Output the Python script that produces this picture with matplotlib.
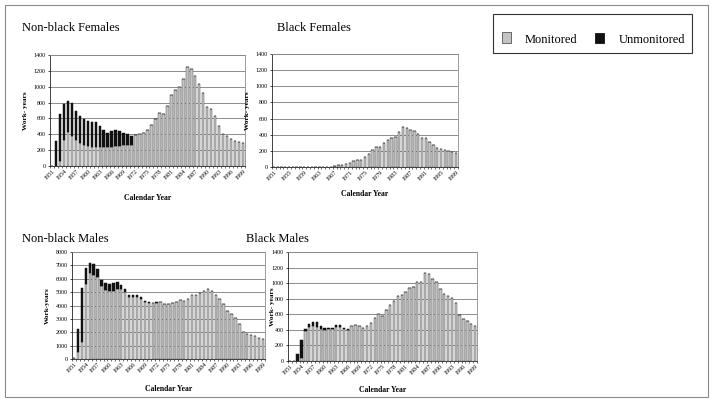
import matplotlib
matplotlib.use("Agg")
import matplotlib.pyplot as plt
from matplotlib.patches import Rectangle
import numpy as np

plt.rcParams["font.family"] = ["Liberation Serif", "DejaVu Serif"]

# ─── Data (work-years per calendar year, 1951-1999) ─────────────
years = list(range(1951, 2000))

nbf_total = [0, 310, 660, 780, 820, 800, 700, 635, 595, 565,
             560, 560, 500, 450, 420, 440, 450, 440, 420, 400,
             380, 395, 405, 410, 460, 520, 595, 665, 660, 760,
             900, 960, 1000, 1100, 1250, 1220, 1130, 1040, 920, 750,
             715, 625, 510, 405, 375, 340, 320, 300, 285]
nbf_unmon = [0, 310, 600, 450, 390, 420, 370, 345, 335, 315,
             315, 315, 260, 210, 180, 195, 200, 185, 160, 135,
             110, 5, 0, 0, 0, 0, 0, 0, 0, 0,
             0, 0, 0, 0, 0, 0, 0, 0, 0, 0,
             0, 0, 0, 0, 0, 0, 0, 0, 0]

bf_total = [0, 0, 0, 0, 0, 0, 0, 0, 0, 0,
            0, 0, 0, 0, 0, 0, 15, 25, 30, 40,
            45, 75, 90, 85, 130, 165, 205, 250, 250, 300,
            335, 355, 375, 430, 490, 480, 460, 445, 405, 365,
            355, 315, 270, 240, 225, 205, 200, 185, 175]
bf_unmon = [0] * len(years)

nbm_total = [100, 2250, 5300, 6800, 7200, 7100, 6750, 5900, 5700, 5600,
             5650, 5750, 5550, 5250, 4750, 4750, 4750, 4600, 4350, 4250,
             4200, 4250, 4250, 4100, 4100, 4150, 4250, 4400, 4350, 4500,
             4800, 4750, 4950, 5050, 5200, 5100, 4750, 4450, 4100, 3600,
             3350, 3100, 2650, 2050, 1850, 1800, 1700, 1600, 1500]
nbm_unmon = [20, 1750, 4000, 1200, 800, 800, 650, 450, 550, 500,
             550, 550, 350, 250, 150, 150, 150, 120, 100, 80,
             50, 30, 0, 0, 0, 0, 0, 0, 0, 0,
             0, 0, 0, 0, 0, 0, 0, 0, 0, 0,
             0, 0, 0, 0, 0, 0, 0, 0, 0]

bm_total = [0, 0, 85, 270, 410, 480, 505, 500, 450, 420,
            430, 430, 460, 460, 420, 410, 450, 465, 445, 430,
            455, 490, 550, 605, 580, 660, 720, 775, 840, 845,
            880, 940, 950, 1020, 1010, 1135, 1115, 1050, 1010, 925,
            860, 840, 805, 740, 590, 545, 510, 475, 450]
bm_unmon = [0, 0, 85, 230, 30, 40, 60, 60, 35, 20,
            15, 15, 20, 20, 10, 10, 5, 0, 0, 0,
            0, 0, 0, 0, 0, 0, 0, 0, 0, 0,
            0, 0, 0, 0, 0, 0, 0, 0, 0, 0,
            0, 0, 0, 0, 0, 0, 0, 0, 0]

W, H = 714, 404
GRAY = "#c4c4c4"
BLACK = "#111111"


def px_axes(fig, left, right, top, bottom):
    """Axes dari koordinat piksel (y dari atas)."""
    return fig.add_axes([left / W, (H - bottom) / H,
                         (right - left) / W, (bottom - top) / H])


def draw_panel(ax, total, unmon, ymax, ystep, tick_every, ylabel,
               ylab_x, xlab_y):
    x = np.arange(len(years))
    total = np.array(total, dtype=float)
    unmon = np.array(unmon, dtype=float)
    mon = total - unmon
    ax.bar(x, mon, width=0.62, color=GRAY, edgecolor="#555555",
           linewidth=0.35, zorder=3)
    ax.bar(x, unmon, bottom=mon, width=0.62, color=BLACK,
           edgecolor=BLACK, linewidth=0.35, zorder=3)
    ax.set_xlim(-0.5, len(years) - 0.5)
    ax.set_ylim(0, ymax)
    ax.set_yticks(np.arange(0, ymax + 1, ystep))
    ax.tick_params(axis="y", labelsize=4.3, length=1.5, width=0.5, pad=1.5)
    idx = list(range(0, len(years), tick_every))
    ax.set_xticks(idx)
    ax.set_xticklabels([str(years[i]) for i in idx], rotation=45,
                       ha="right", rotation_mode="anchor")
    ax.set_xticks(np.arange(len(years) + 1) - 0.5, minor=True)
    ax.tick_params(axis="x", which="major", labelsize=4.3, length=0,
                   pad=2)
    ax.tick_params(axis="x", which="minor", length=1.5, width=0.4)
    ax.yaxis.grid(True, color="#7a7a7a", linewidth=0.6, zorder=0)
    ax.set_axisbelow(True)
    for side in ("top", "right"):
        ax.spines[side].set_color("#8a8a8a")
        ax.spines[side].set_linewidth(0.6)
    for side in ("left", "bottom"):
        ax.spines[side].set_color("#222222")
        ax.spines[side].set_linewidth(0.6)
    ax.set_ylabel(ylabel, fontsize=5.2, fontweight="bold")
    ax.yaxis.set_label_coords(ylab_x, 0.5)
    ax.set_xlabel("Calendar Year", fontsize=5.5, fontweight="bold")
    ax.xaxis.set_label_coords(0.5, xlab_y)


fig = plt.figure(figsize=(W / 100, H / 100), dpi=100)

# bingkai luar
fig.patches.append(Rectangle((5 / W, 7 / H), 703 / W, 392 / H,
                             transform=fig.transFigure, fill=False,
                             edgecolor="#8a8a8a", linewidth=0.8))

# ─── Panel ─────────────────────────────────────────────────────
ax1 = px_axes(fig, 50, 245, 55, 166)
draw_panel(ax1, nbf_total, nbf_unmon, 1400, 200, 3, "Work- years",
           -0.115, -0.25)
ax2 = px_axes(fig, 272, 458, 54, 167)
draw_panel(ax2, bf_total, bf_unmon, 1400, 200, 4, "Work- years",
           -0.12, -0.20)
ax3 = px_axes(fig, 72, 265, 252, 359)
draw_panel(ax3, nbm_total, nbm_unmon, 8000, 1000, 3, "Work-years",
           -0.115, -0.24)
ax4 = px_axes(fig, 288, 477, 252, 361)
draw_panel(ax4, bm_total, bm_unmon, 1400, 200, 3, "Work- years",
           -0.07, -0.23)

# judul panel
for label, xpix, ypix in [("Non-black Females", 22, 31),
                          ("Black Females", 277, 31),
                          ("Non-black Males", 22, 242),
                          ("Black Males", 246, 242)]:
    fig.text(xpix / W, 1 - ypix / H, label, fontsize=9, va="baseline")

# ─── Legenda ───────────────────────────────────────────────────
fig.patches.append(Rectangle((493 / W, (H - 53) / H), 199 / W, 39 / H,
                             transform=fig.transFigure, fill=False,
                             edgecolor="#333333", linewidth=0.8))
fig.patches.append(Rectangle((502 / W, (H - 43) / H), 9 / W, 11 / H,
                             transform=fig.transFigure, facecolor=GRAY,
                             edgecolor="#555555", linewidth=0.6))
fig.text(525 / W, 1 - 40 / H, "Monitored", fontsize=9, va="center")
fig.patches.append(Rectangle((595 / W, (H - 43) / H), 9 / W, 10 / H,
                             transform=fig.transFigure, facecolor=BLACK,
                             edgecolor=BLACK, linewidth=0.6))
fig.text(619 / W, 1 - 40 / H, "Unmonitored", fontsize=9, va="center")

fig.savefig("out.png", dpi=100)
